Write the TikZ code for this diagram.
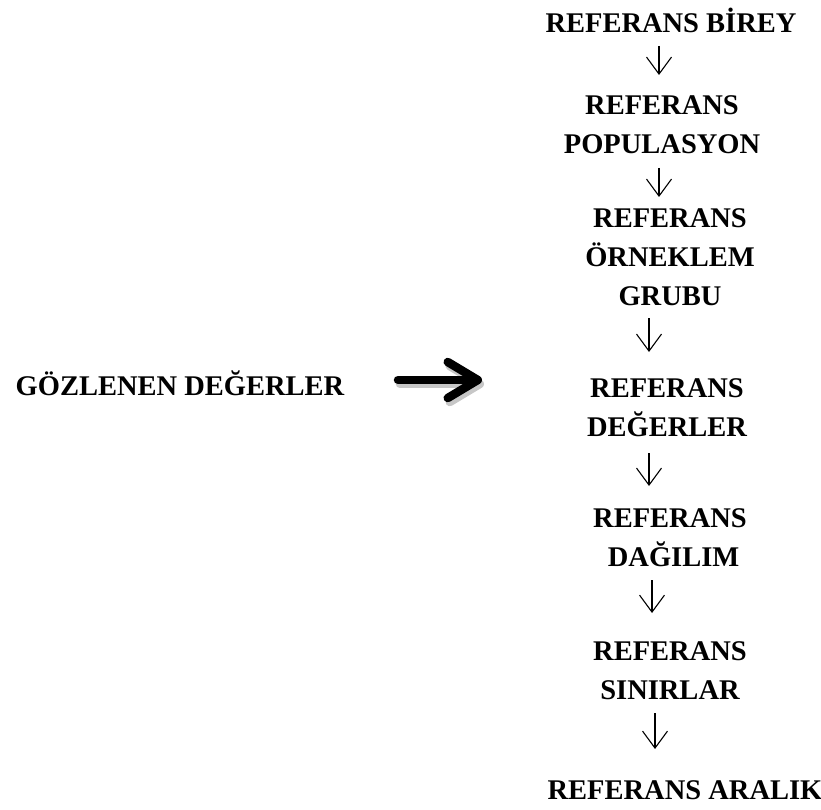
\documentclass[tikz,border=0pt]{standalone}
\usepackage{fontspec}
\setmainfont{Liberation Serif}
\usepackage{tikz}
\usetikzlibrary{positioning,arrows.meta,calc}

\begin{document}
\begin{tikzpicture}[x=1pt, y=-1pt,
    lbl/.style={font=\bfseries\fontsize{28.5}{39}\selectfont, align=center, inner sep=0pt},
    down/.style={-{Straight Barb[length=17pt,width=25pt]}, line width=1.1pt},
    fat/.style={-{Straight Barb[length=30pt,width=36pt,round]}, line width=8.5pt, line cap=round}]
        \useasboundingbox (0,0) rectangle (821,810);
        % column of steps
        \node[lbl] (birey) at (671,20) {REFERANS B\.{I}REY};
        \node[lbl] (populasyon) at (662,125) {REFERANS\\POPULASYON};
        \node[lbl] (orneklem) at (670,257) {REFERANS\\ÖRNEKLEM\\GRUBU};
        \node[lbl] (degerler) at (667,408) {REFERANS\\DEĞERLER};
        \node[lbl] (dagilim) at (670,538) {REFERANS\\\ DAĞILIM};
        \node[lbl] (sinirlar) at (670,671) {REFERANS\\SINIRLAR};
        \node[lbl] (aralik) at (685,790) {REFERANS ARALIK};
        % observed values
        \node[lbl] (gozlenen) at (180,383) {GÖZLENEN DEĞERLER};
        \draw[fat, black!22, transform canvas={shift={(2pt,-4pt)}}] ($(gozlenen)+(218,-3)$) -- ($(degerler)+(-185,-28)$);
        \draw[fat] ($(gozlenen)+(218,-3)$) -- ($(degerler)+(-185,-28)$);
        % arrows between steps
        \draw[down] ($(birey)+(-12,26)$) -- ($(populasyon)+(-3,-50)$);
        \draw[down] ($(populasyon)+(-3,43)$) -- ($(orneklem)+(-11,-60)$);
        \draw[down] ($(orneklem)+(-21,61)$) -- ($(degerler)+(-18,-56)$);
        \draw[down] ($(degerler)+(-18,45)$) -- ($(dagilim)+(-21,-52)$);
        \draw[down] ($(dagilim)+(-18,42)$) -- ($(sinirlar)+(-18,-58)$);
        \draw[down] ($(sinirlar)+(-15,42)$) -- ($(aralik)+(-30,-41)$);
\end{tikzpicture}
\end{document}
